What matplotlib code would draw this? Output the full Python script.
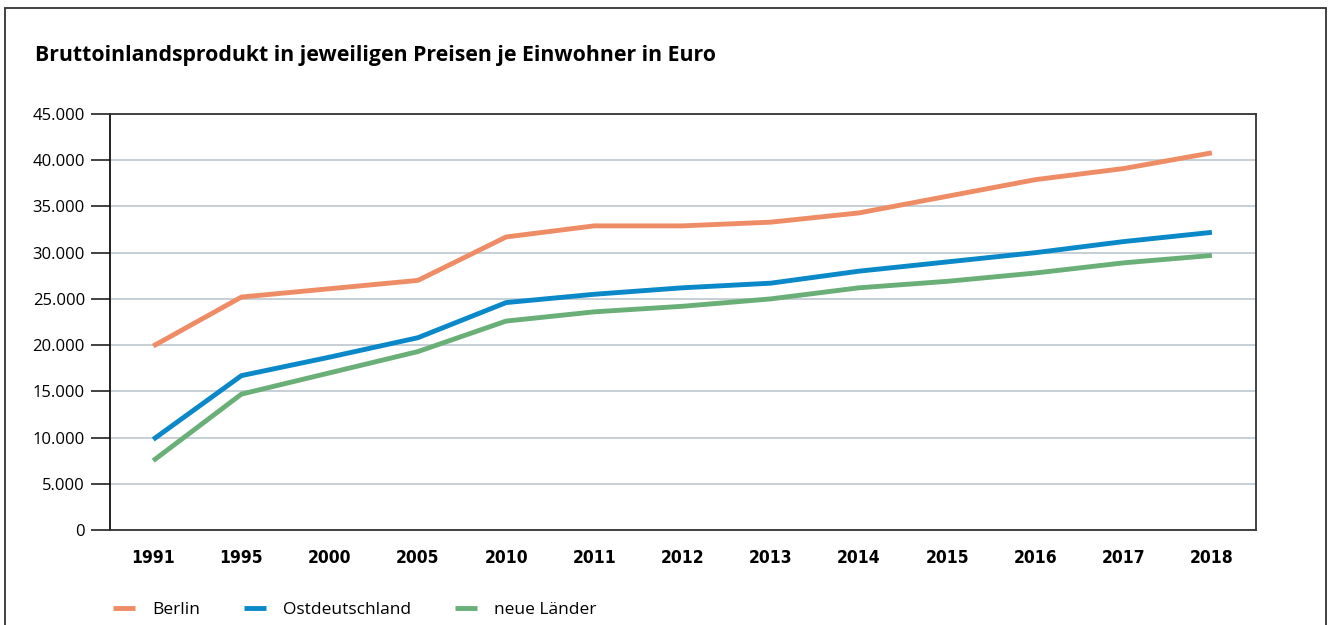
import matplotlib
matplotlib.use('Agg')
import matplotlib.pyplot as plt
from matplotlib.patches import Rectangle
from matplotlib.ticker import FuncFormatter

years = ['1991', '1995', '2000', '2005', '2010', '2011', '2012',
         '2013', '2014', '2015', '2016', '2017', '2018']
berlin = [19900, 25200, 26100, 27000, 31700, 32900, 32900,
          33300, 34300, 36100, 37900, 39100, 40800]
ost = [9800, 16700, 18700, 20800, 24600, 25500, 26200,
       26700, 28000, 29000, 30000, 31200, 32200]
neue = [7500, 14700, 17000, 19300, 22600, 23600, 24200,
        25000, 26200, 26900, 27800, 28900, 29700]

series = [('Berlin', berlin, '#ee8c66'),
          ('Ostdeutschland', ost, '#0a88c8'),
          ('neue Länder', neue, '#6aaf78')]

plt.rcParams['font.family'] = ['Open Sans', 'DejaVu Sans']

fig = plt.figure(figsize=(13.35, 6.25), dpi=100)
ax = fig.add_axes([110 / 1335, 1 - 530 / 625, (1256 - 110) / 1335, (530 - 114) / 625])

x = list(range(len(years)))
for name, vals, col in series:
    ax.plot(x, vals, color=col, lw=3.5, label=name, solid_capstyle='butt')

ax.set_xlim(-0.49, 12.5)
ax.set_ylim(0, 45000)
ax.set_yticks(range(0, 45001, 5000))
ax.yaxis.set_major_formatter(FuncFormatter(lambda v, p: f'{int(v):,}'.replace(',', '.')))
ax.yaxis.grid(True, color='#c2ccd2', lw=1.3)
ax.set_axisbelow(True)
ax.set_xticks(x)
ax.set_xticklabels(years, fontweight='bold', family='DejaVu Sans', fontstretch='condensed')
ax.tick_params(axis='x', length=0, pad=14, labelsize=12.5)
ax.tick_params(axis='y', length=14, width=1.3, color='#333333', labelsize=12, pad=4)
for s in ax.spines.values():
    s.set_color('#333333')
    s.set_linewidth(1.3)
ax.spines['left'].set_color('#111111')

fig.text(35 / 1335, 1 - 55 / 625, 'Bruttoinlandsprodukt in jeweiligen Preisen je Einwohner in Euro',
         fontsize=15.3, fontweight='bold', va='center', ha='left')

fig.patches.append(Rectangle((5 / 1335, -0.1), (1326 - 5) / 1335, 1.1 - 8 / 625,
                             transform=fig.transFigure, fill=False, ec='#333333', lw=1.3))

fig.legend(loc='center left', bbox_to_anchor=(113 / 1335, 1 - 610 / 625), ncol=3,
           frameon=False, fontsize=12.5, handlelength=1.27, columnspacing=2.5,
           handletextpad=1.0, borderpad=0, borderaxespad=0)

fig.savefig('out.png', dpi=100)
